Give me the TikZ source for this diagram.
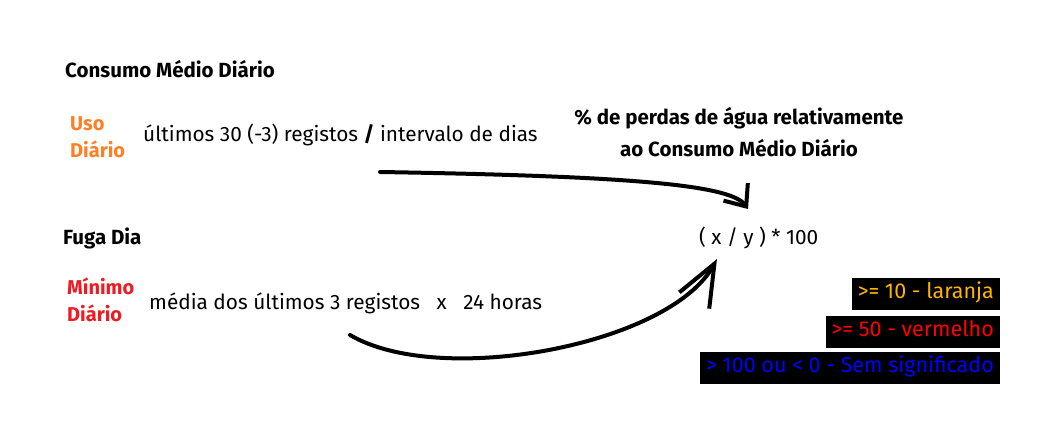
\documentclass[tikz,border=0pt]{standalone}
\usepackage{fontspec}
\setmainfont{Fira Sans}
\usetikzlibrary{arrows.meta}
\definecolor{usoorange}{RGB}{255,127,39}
\definecolor{minred}{RGB}{237,28,36}
\definecolor{lvlorange}{RGB}{255,180,0}
\definecolor{lvlred}{RGB}{255,0,0}
\definecolor{lvlblue}{RGB}{0,0,255}
\tikzset{
  plain/.style={inner sep=0pt,anchor=base west,font=\fontsize{20.8}{27}\selectfont},
  heading/.style={plain,font=\bfseries\fontsize{20.5}{32}\selectfont},
  tag/.style={plain,align=left,font=\bfseries\fontsize{20}{27}\selectfont},
  level/.style={fill=black,anchor=east,inner xsep=6pt,text height=15pt,text depth=5pt,inner ysep=6pt,font=\fontsize{21.5}{22}\selectfont},
  hand/.style={line width=4pt,line cap=round,line join=round}
}
\begin{document}
\begin{tikzpicture}[x=1pt,y=-1pt]
  \useasboundingbox (0,0) rectangle (1045,422);
  \node[heading] (consumo) at (65,78) {Consumo Médio Diário};
  \node[tag,text=usoorange] (uso) at (70,158) {Uso\\Diário};
  \node[plain] (usotxt) at (143,142) {últimos 30 (-3) registos \textbf{/} intervalo de dias};
  \node[heading] (fuga) at (63,245) {Fuga Dia};
  \node[tag,text=minred] (minimo) at (67,322) {Mínimo\\Diário};
  \node[plain] (mintxt) at (149,309) {média dos últimos 3 registos \ \ x \ \ 24 horas};
  \node[heading,align=center,anchor=base] (perdas) at (739,157) {\% de perdas de água relativamente\\ao Consumo Médio Diário};
  \node[plain] (formula) at (699,245) {( x / y ) * 100};
  % legenda das cores
  \node[level,text=lvlorange] (l10) at (1000,294) {>= 10 - laranja};
  \node[level,text=lvlred] (l50) at (1000,332) {>= 50 - vermelho};
  \node[level,text=lvlblue] (l100) at (1000,367.5) {> 100 ou < 0 - Sem significado};
  % setas
  \coordinate (a1s) at (380,172);
  \coordinate (a1t) at (748,209);
  \coordinate (a2s) at (350,335);
  \coordinate (a2t) at (717,259);
  \draw[hand,-{Straight Barb[length=18pt,width=30pt]}] (a1s) .. controls (620,176) and (730,184) .. (a1t);
  \draw[hand,-{Straight Barb[length=42pt,width=34pt]}] (a2s) .. controls (440,388) and (670,345) .. (a2t);
\end{tikzpicture}
\end{document}
